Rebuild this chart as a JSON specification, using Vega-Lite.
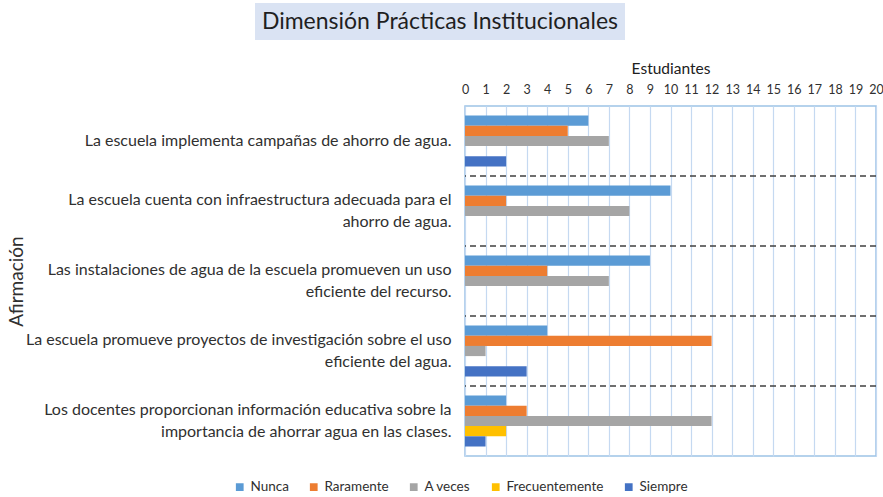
{
  "$schema": "https://vega.github.io/schema/vega-lite/v6.json",
  "padding": {"left": 5, "top": 3, "right": 0, "bottom": 3},
  "background": "white",
  "config": {"font": "Lato", "view": {"stroke": null}},
  "spacing": 20,
  "vconcat": [
    {
      "spacing": 0,
      "hconcat": [
        {
          "width": 250,
          "height": 1,
          "data": {"values": [{"relleno": 0}]},
          "mark": {"type": "rect", "opacity": 0},
          "encoding": {}
        },
        {
          "width": 370,
          "height": 37,
          "view": {"fill": "#DAE3F3", "stroke": null},
          "data": {"values": [{"titulo": "Dimensión Prácticas Institucionales"}]},
          "mark": {"type": "text", "fontSize": 23, "color": "#1f1f1f", "font": "Lato"},
          "encoding": {"text": {"field": "titulo", "type": "nominal"}}
        }
      ]
    },
    {
      "spacing": 0,
      "hconcat": [
        {
          "width": 1,
          "height": 1,
          "data": {"values": [{"relleno": 0}]},
          "mark": {"type": "rect", "opacity": 0},
          "encoding": {}
        },
        {
          "width": 411,
          "height": 350,
          "view": {"stroke": "#9DC3E6", "strokeWidth": 1.5},
          "data": {
            "values": [
              {"afirmacion": "La escuela implementa campañas de ahorro de agua.", "serie": "Nunca", "estudiantes": 6},
              {"afirmacion": "La escuela implementa campañas de ahorro de agua.", "serie": "Raramente", "estudiantes": 5},
              {"afirmacion": "La escuela implementa campañas de ahorro de agua.", "serie": "A veces", "estudiantes": 7},
              {"afirmacion": "La escuela implementa campañas de ahorro de agua.", "serie": "Frecuentemente", "estudiantes": 0},
              {"afirmacion": "La escuela implementa campañas de ahorro de agua.", "serie": "Siempre", "estudiantes": 2},
              {"afirmacion": "La escuela cuenta con infraestructura adecuada para el\nahorro de agua.", "serie": "Nunca", "estudiantes": 10},
              {"afirmacion": "La escuela cuenta con infraestructura adecuada para el\nahorro de agua.", "serie": "Raramente", "estudiantes": 2},
              {"afirmacion": "La escuela cuenta con infraestructura adecuada para el\nahorro de agua.", "serie": "A veces", "estudiantes": 8},
              {"afirmacion": "La escuela cuenta con infraestructura adecuada para el\nahorro de agua.", "serie": "Frecuentemente", "estudiantes": 0},
              {"afirmacion": "La escuela cuenta con infraestructura adecuada para el\nahorro de agua.", "serie": "Siempre", "estudiantes": 0},
              {"afirmacion": "Las instalaciones de agua de la escuela promueven un uso\neficiente del recurso.", "serie": "Nunca", "estudiantes": 9},
              {"afirmacion": "Las instalaciones de agua de la escuela promueven un uso\neficiente del recurso.", "serie": "Raramente", "estudiantes": 4},
              {"afirmacion": "Las instalaciones de agua de la escuela promueven un uso\neficiente del recurso.", "serie": "A veces", "estudiantes": 7},
              {"afirmacion": "Las instalaciones de agua de la escuela promueven un uso\neficiente del recurso.", "serie": "Frecuentemente", "estudiantes": 0},
              {"afirmacion": "Las instalaciones de agua de la escuela promueven un uso\neficiente del recurso.", "serie": "Siempre", "estudiantes": 0},
              {"afirmacion": "La escuela promueve proyectos de investigación sobre el uso\neficiente del agua.", "serie": "Nunca", "estudiantes": 4},
              {"afirmacion": "La escuela promueve proyectos de investigación sobre el uso\neficiente del agua.", "serie": "Raramente", "estudiantes": 12},
              {"afirmacion": "La escuela promueve proyectos de investigación sobre el uso\neficiente del agua.", "serie": "A veces", "estudiantes": 1},
              {"afirmacion": "La escuela promueve proyectos de investigación sobre el uso\neficiente del agua.", "serie": "Frecuentemente", "estudiantes": 0},
              {"afirmacion": "La escuela promueve proyectos de investigación sobre el uso\neficiente del agua.", "serie": "Siempre", "estudiantes": 3},
              {"afirmacion": "Los docentes proporcionan información educativa sobre la\nimportancia de ahorrar agua en las clases.", "serie": "Nunca", "estudiantes": 2},
              {"afirmacion": "Los docentes proporcionan información educativa sobre la\nimportancia de ahorrar agua en las clases.", "serie": "Raramente", "estudiantes": 3},
              {"afirmacion": "Los docentes proporcionan información educativa sobre la\nimportancia de ahorrar agua en las clases.", "serie": "A veces", "estudiantes": 12},
              {"afirmacion": "Los docentes proporcionan información educativa sobre la\nimportancia de ahorrar agua en las clases.", "serie": "Frecuentemente", "estudiantes": 2},
              {"afirmacion": "Los docentes proporcionan información educativa sobre la\nimportancia de ahorrar agua en las clases.", "serie": "Siempre", "estudiantes": 1}
            ]
          },
          "layer": [
            {
              "mark": {"type": "bar"},
              "encoding": {
                "y": {
                  "field": "afirmacion",
                  "type": "nominal",
                  "sort": null,
                  "scale": {"paddingInner": 0, "paddingOuter": 0},
                  "axis": {
                    "title": "Afirmación",
                    "labelExpr": "split(datum.label, '\\n')",
                    "labelAlign": "right",
                    "labelLimit": 0,
                    "labelOffset": {"condition": {"test": "indexof(datum.label, '\\n') >= 0", "value": -11}, "value": 0},
                    "domain": false,
                    "ticks": false,
                    "grid": false,
                    "labelPadding": 14,
                    "labelFontSize": 16,
                    "labelLineHeight": 22,
                    "labelColor": "#303030",
                    "titleFontSize": 19,
                    "titleFontWeight": "normal",
                    "titleColor": "#303030",
                    "titleX": -449,
                    "titleY": 175,
                    "titleAngle": 270,
                    "titleBaseline": "middle",
                    "titleAlign": "center"
                  }
                },
                "yOffset": {
                  "field": "serie",
                  "sort": ["Nunca", "Raramente", "A veces", "Frecuentemente", "Siempre"],
                  "scale": {"paddingInner": 0, "paddingOuter": 0.93}
                },
                "x": {
                  "field": "estudiantes",
                  "type": "quantitative",
                  "scale": {"domain": [0, 20], "nice": false},
                  "axis": {
                    "orient": "top",
                    "title": "Estudiantes",
                    "values": [0,1,2,3,4,5,6,7,8,9,10,11,12,13,14,15,16,17,18,19,20],
                    "grid": true,
                    "gridColor": "#C5D9F1",
                    "gridWidth": 1.2,
                    "domain": false,
                    "ticks": false,
                    "labelFlush": false,
                    "labelPadding": 10,
                    "labelFontSize": 12.5,
                    "labelColor": "#303030",
                    "titleFontSize": 15.5,
                    "titleFontWeight": "normal",
                    "titleColor": "#202020",
                    "titlePadding": 7
                  }
                },
                "color": {
                  "field": "serie",
                  "type": "nominal",
                  "sort": ["Nunca", "Raramente", "A veces", "Frecuentemente", "Siempre"],
                  "scale": {
                    "domain": ["Nunca", "Raramente", "A veces", "Frecuentemente", "Siempre"],
                    "range": ["#5B9BD5", "#ED7D31", "#A5A5A5", "#FFC000", "#4472C4"]
                  },
                  "legend": {
                    "title": null,
                    "orient": "none",
                    "legendX": 228,
                    "legendY": 477,
                    "direction": "horizontal",
                    "symbolType": "square",
                    "symbolSize": 60,
                    "symbolStrokeWidth": 0,
                    "labelFontSize": 13.5,
                    "labelColor": "#303030",
                    "columnPadding": 18
                  }
                }
              }
            },
            {
              "transform": [{"filter": "datum.serie === 'Nunca' && indexof(datum.afirmacion, 'implementa') < 0"}],
              "mark": {"type": "rule", "strokeDash": [6, 4], "color": "#404040", "strokeWidth": 1.4},
              "encoding": {
                "y": {"field": "afirmacion", "type": "nominal", "sort": null, "bandPosition": 0}
              }
            }
          ]
        }
      ]
    }
  ]
}
